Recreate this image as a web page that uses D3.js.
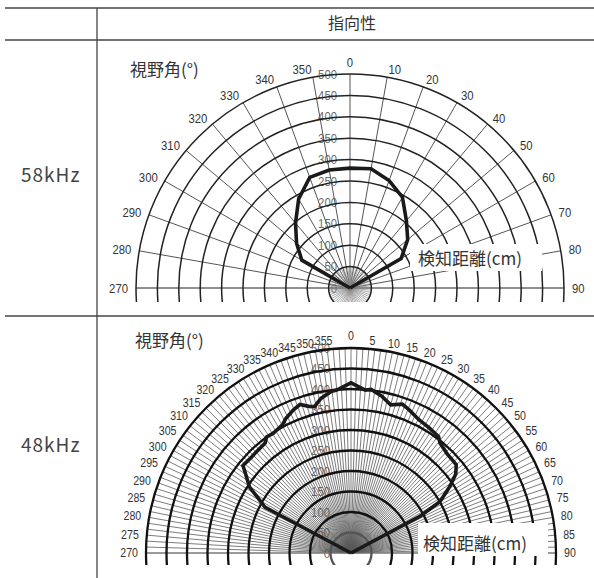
<!DOCTYPE html>
<html>
<head>
<meta charset="utf-8">
<script src="https://cdn.jsdelivr.net/npm/d3@7"></script>
<style>
  html, body { margin: 0; padding: 0; background: #fff; }
  svg { display: block; }
</style>
</head>
<body>
<svg id="chart" width="594" height="578"></svg>
<script>
// Directivity of the ultrasonic sensor at two frequencies.
// Angles are the view angle (°), 0 straight ahead; distances are detection range in cm.

const distanceTicks = [0, 50, 100, 150, 200, 250, 300, 350, 400, 450, 500];

const angleTicks58 = [270, 280, 290, 300, 310, 320, 330, 340, 350, 0, 10, 20, 30, 40, 50, 60, 70, 80, 90];
const angleTicks48 = [270, 275, 280, 285, 290, 295, 300, 305, 310, 315, 320, 325, 330, 335, 340, 345, 350, 355,
                      0, 5, 10, 15, 20, 25, 30, 35, 40, 45, 50, 55, 60, 65, 70, 75, 80, 85, 90];

// 58kHz detection range, every 10°
const angles58 = [270, 280, 290, 300, 310, 320, 330, 340, 350, 0, 10, 20, 30, 40, 50, 60, 70, 80, 90];
const distances58 = [0, 0, 0, 130, 163, 198, 240, 275, 280, 280, 283, 267, 245, 205, 176, 138, 0, 0, 0];

// 48kHz detection range
const angles48 = [270, 298, 301, 303, 306, 309, 314, 317, 322, 324, 327, 332, 334, 338, 341, 344, 346, 349, 353, 355,
                  0, 5, 7, 11, 15, 19, 22, 27, 32, 37, 39, 44, 50, 53, 56, 60, 62, 90];
const distances48 = [0, 238, 268, 295, 315, 339, 337, 338, 340, 350, 348, 355, 364, 376, 383, 372, 368, 384, 397, 399,
                     415, 399, 402, 390, 374, 384, 377, 365, 360, 355, 345, 337, 335, 320, 291, 251, 190, 0];

const rowLabels = ["58kHz", "48kHz"];
const headerLabel = "指向性";
const angleTitle = "視野角(°)";
const distanceTitle = "検知距離(cm)";

const W = 594, H = 578;
const svg = d3.select("#chart");
const NUM_FONT = "'Liberation Sans', Arial, sans-serif";
const JP_FONT = "'Noto Sans CJK JP', 'Noto Sans', sans-serif";

const toRad = a => ((a >= 180 ? a - 360 : a) * Math.PI) / 180;

// condensed numerals: squeeze each label to a fixed advance per digit
function narrow(sel, perChar) {
  sel.attr("textLength", d => String(d).length * perChar)
     .attr("lengthAdjust", "spacingAndGlyphs");
}

// ---- table frame ----
const frame = svg.append("g").attr("stroke", "#444").attr("stroke-width", 1.3);
frame.append("line").attr("x1", 5).attr("x2", W).attr("y1", 8).attr("y2", 8);
frame.append("line").attr("x1", 5).attr("x2", W).attr("y1", 40).attr("y2", 40);
frame.append("line").attr("x1", 5).attr("x2", W).attr("y1", 316).attr("y2", 316);
frame.append("line").attr("x1", 97).attr("x2", 97).attr("y1", 8).attr("y2", H);

svg.append("text").attr("x", 352).attr("y", 29)
  .attr("text-anchor", "middle").attr("font-family", JP_FONT).attr("font-size", 16)
  .attr("fill", "#333").text(headerLabel);

// ---- one polar half-plane chart ----
function drawPolar(cfg) {
  const g = svg.append("g").attr("transform", `translate(${cfg.cx},${cfg.cy})`);
  const r = d3.scaleLinear().domain([0, 500]).range([0, cfg.R]);

  // row label
  svg.append("text").attr("x", 21).attr("y", cfg.rowY)
    .attr("font-family", JP_FONT).attr("font-size", 19).attr("fill", "#444")
    .attr("letter-spacing", 1)
    .text(cfg.rowLabel);

  // distance labels along the 0° axis (grid is drawn over them)
  g.append("g").selectAll("text").data(distanceTicks).join("text")
    .attr("x", -cfg.labelGap).attr("y", d => -r(d)).attr("dy", "0.35em")
    .attr("text-anchor", "end").attr("font-family", NUM_FONT).attr("font-size", 13)
    .attr("fill", "#6a6a6a").text(d => d)
    .call(narrow, 6.3);

  // grid, clipped just below the 270–90 axis
  const clipId = "clip" + cfg.id;
  g.append("clipPath").attr("id", clipId).append("rect")
    .attr("x", -cfg.R - 20).attr("y", -cfg.R - 20)
    .attr("width", 2 * cfg.R + 40).attr("height", cfg.R + 20 + cfg.below);
  const grid = g.append("g").attr("clip-path", `url(#${clipId})`);

  // radial spokes
  const spokes = d3.range(-90, 90 + 1e-6, cfg.spokeStep);
  grid.append("g").selectAll("line").data(spokes).join("line")
    .attr("x1", 0).attr("y1", 0)
    .attr("x2", d => d3.pointRadial(d * Math.PI / 180, cfg.R)[0])
    .attr("y2", d => d3.pointRadial(d * Math.PI / 180, cfg.R)[1])
    .attr("stroke", cfg.spokeColor).attr("stroke-width", cfg.spokeWidth);

  // short dense spokes around the origin
  if (cfg.burstStep) {
    grid.append("g").selectAll("line").data(d3.range(0, 360, cfg.burstStep)).join("line")
      .attr("x1", 0).attr("y1", 0)
      .attr("x2", d => d3.pointRadial(d * Math.PI / 180, r(50))[0])
      .attr("y2", d => d3.pointRadial(d * Math.PI / 180, r(50))[1])
      .attr("stroke", "#888").attr("stroke-width", 0.7);
  }

  // 270–90 axis
  grid.append("line").attr("x1", -cfg.R).attr("x2", cfg.R).attr("y1", 0).attr("y2", 0)
    .attr("stroke", "#777").attr("stroke-width", 1.2);

  // distance rings
  grid.append("g").selectAll("circle").data(distanceTicks.slice(1)).join("circle")
    .attr("r", d => r(d)).attr("fill", "none")
    .attr("stroke", d => d <= cfg.lightRingMax ? cfg.innerRingColor : cfg.ringColor)
    .attr("stroke-width", cfg.ringWidth);

  // detection pattern
  const pts = cfg.angles.map((a, i) => ({ a: toRad(a), v: cfg.values[i] }));
  g.append("path").datum(pts)
    .attr("d", d3.lineRadial().angle(d => d.a).radius(d => r(d.v)))
    .attr("fill", "none").attr("stroke", "#1a1a1a").attr("stroke-width", 3.6)
    .attr("stroke-linejoin", "miter");

  // distance axis title on a white patch
  svg.append("rect").attr("x", cfg.box[0]).attr("y", cfg.box[1])
    .attr("width", cfg.box[2]).attr("height", cfg.box[3]).attr("fill", "#fff");
  svg.append("text").attr("x", cfg.box[0] + cfg.box[4]).attr("y", cfg.box[5])
    .attr("font-family", JP_FONT).attr("font-size", 17).attr("fill", "#333")
    .text(distanceTitle);

  // view-angle labels round the outer ring
  g.append("g").selectAll("text").data(cfg.angleTicks).join("text")
    .each(function (d) {
      const t = d3.select(this);
      if (d === 0) {
        t.attr("x", 0).attr("y", -cfg.R - 12).attr("dy", "0.35em").attr("text-anchor", "middle");
      } else {
        const [x, y] = d3.pointRadial(toRad(d), cfg.R + 8);
        t.attr("x", x).attr("y", y).attr("dy", "0.35em")
          .attr("text-anchor", d >= 180 ? "end" : "start");
      }
    })
    .attr("font-family", NUM_FONT).attr("font-size", cfg.angleFont).attr("fill", "#333")
    .text(d => d)
    .call(narrow, cfg.anglePerChar);

  svg.append("text").attr("x", cfg.titleX).attr("y", cfg.titleY)
    .attr("font-family", JP_FONT).attr("font-size", 17).attr("fill", "#333")
    .text(angleTitle);
}

drawPolar({
  id: 58, cx: 350, cy: 288, R: 214, below: 14,
  rowLabel: rowLabels[0], rowY: 182,
  angleTicks: angleTicks58, angles: angles58, values: distances58,
  spokeStep: 10, spokeColor: "#555", spokeWidth: 1, burstStep: 6,
  ringColor: "#222", innerRingColor: "#222", lightRingMax: 0, ringWidth: 1.5, labelGap: 13,
  angleFont: 13, anglePerChar: 6.3,
  box: [410, 244, 132, 27, 8, 265],
  titleX: 130, titleY: 76
});

drawPolar({
  id: 48, cx: 351, cy: 553, R: 205, below: 12,
  rowLabel: rowLabels[1], rowY: 452,
  angleTicks: angleTicks48, angles: angles48, values: distances48,
  spokeStep: 5 / 3, spokeColor: "#5a5a5a", spokeWidth: 0.8, burstStep: 0,
  ringColor: "#111", innerRingColor: "#555", lightRingMax: 50, ringWidth: 2.3, labelGap: 21,
  angleFont: 12.5, anglePerChar: 5.9,
  box: [418, 523, 130, 33, 5, 550],
  titleX: 135, titleY: 347
});
</script>
</body>
</html>
